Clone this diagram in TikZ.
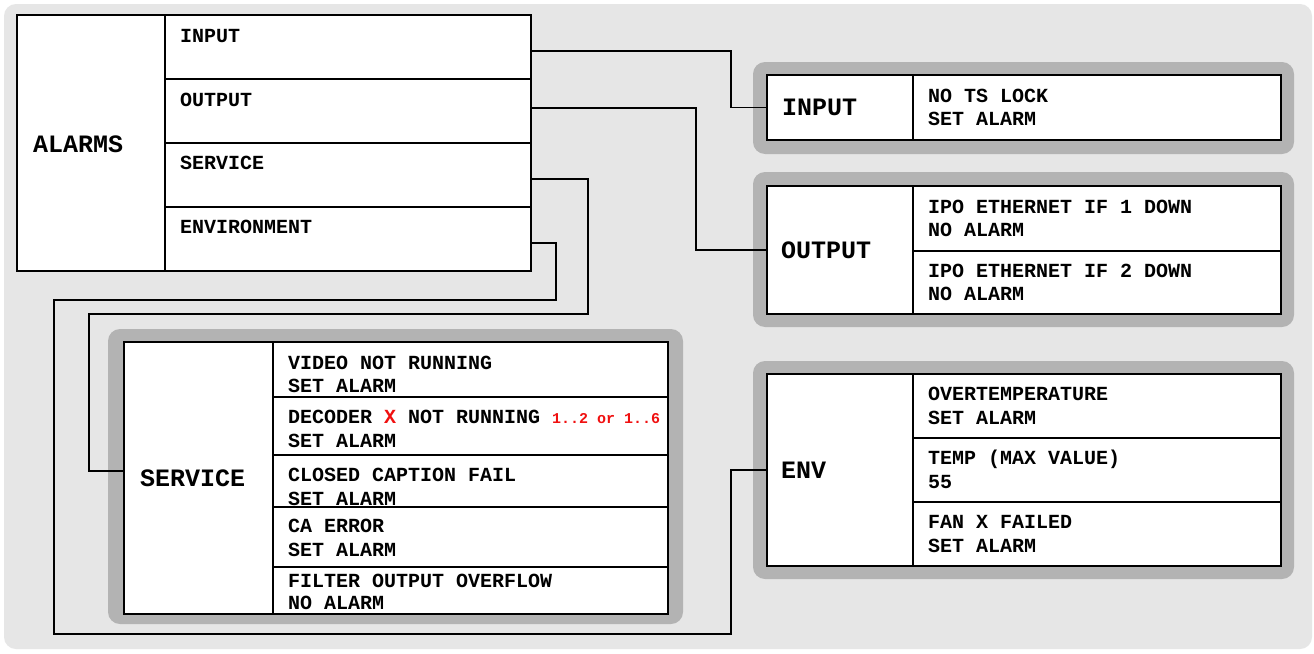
\documentclass[tikz,border=0pt]{standalone}
\usepackage{fontspec}
\setmainfont{Liberation Mono}
\definecolor{bggray}{RGB}{230,230,230}
\definecolor{framegray}{RGB}{179,179,179}
\definecolor{alarmred}{RGB}{240,16,16}
\newcommand\mycell[5]{\node[cell, minimum width=#4, minimum height=#5] (#1) at (#2,#3) {};}
\newcommand\myframe[5]{\node[frame, minimum width=#4, minimum height=#5] (#1) at (#2,#3) {};}
\begin{document}
\begin{tikzpicture}[x=1pt,y=-1pt,
  cell/.style={rectangle, draw=black, fill=white, line width=1.4pt, inner sep=0pt, outer sep=0pt, anchor=north west},
  frame/.style={rectangle, fill=framegray, rounded corners=12pt, inner sep=0pt, outer sep=0pt, anchor=north west},
  bgbox/.style={rectangle, fill=bggray, rounded corners=12pt, inner sep=0pt, outer sep=0pt, anchor=north west},
  txt/.style={font=\fontsize{20}{24}\selectfont\bfseries, anchor=base west, inner sep=0pt},
  big/.style={font=\fontsize{25}{30}\selectfont\bfseries, anchor=base west, inner sep=0pt},
  conn/.style={line width=1.4pt, draw=black}]
\useasboundingbox (0,0) rectangle (1314,653);
\fill[white] (0,0) rectangle (1314,653);
\node[bgbox, minimum width=1308, minimum height=645] (bg) at (4,4) {};

% ALARMS
\mycell{aL}{17}{15}{148}{256}
\mycell{aIn}{165}{15}{366}{64}
\mycell{aOut}{165}{79}{366}{64}
\mycell{aSvc}{165}{143}{366}{64}
\mycell{aEnv}{165}{207}{366}{64}
\node[big] (tAlarms) at (33,152) {ALARMS};
\node[txt] (tAIn) at (180,42) {INPUT};
\node[txt] (tAOut) at (180,106) {OUTPUT};
\node[txt] (tASvc) at (180,169) {SERVICE};
\node[txt] (tAEnv) at (180,233) {ENVIRONMENT};

% INPUT
\myframe{fIn}{753}{62}{541}{92}
\mycell{iL}{767}{75}{146}{65}
\mycell{iR}{913}{75}{368}{65}
\node[big] (tIn) at (782,115) {INPUT};
\node[txt] (tIn1) at (928,102) {NO TS LOCK};
\node[txt] (tIn2) at (928,125) {SET ALARM};

% OUTPUT
\myframe{fOut}{753}{172}{541}{155}
\mycell{oL}{767}{186}{146}{128}
\mycell{oR1}{913}{186}{368}{65}
\mycell{oR2}{913}{251}{368}{63}
\node[big] (tOut) at (781,258) {OUTPUT};
\node[txt] (tOut1) at (928,213) {IPO ETHERNET IF 1 DOWN};
\node[txt] (tOut2) at (928,236) {NO ALARM};
\node[txt] (tOut3) at (928,277) {IPO ETHERNET IF 2 DOWN};
\node[txt] (tOut4) at (928,300) {NO ALARM};

% ENV
\myframe{fEnv}{753}{361}{541}{218}
\mycell{eL}{767}{374}{146}{192}
\mycell{eR1}{913}{374}{368}{64}
\mycell{eR2}{913}{438}{368}{64}
\mycell{eR3}{913}{502}{368}{64}
\node[big] (tEnv) at (781,478) {ENV};
\node[txt] (tEnv1) at (928,400) {OVERTEMPERATURE};
\node[txt] (tEnv2) at (928,424) {SET ALARM};
\node[txt] (tEnv3) at (928,464) {TEMP (MAX VALUE)};
\node[txt] (tEnv4) at (928,488) {55};
\node[txt] (tEnv5) at (928,528) {FAN X FAILED};
\node[txt] (tEnv6) at (928,552) {SET ALARM};

% SERVICE
\myframe{fSvc}{108}{329}{575}{295}
\mycell{sL}{124}{342}{149}{272}
\mycell{sR1}{273}{342}{395}{55}
\mycell{sR2}{273}{397}{395}{58}
\mycell{sR3}{273}{455}{395}{52}
\mycell{sR4}{273}{507}{395}{60}
\mycell{sR5}{273}{567}{395}{47}
\node[big] (tSvc) at (140,486) {SERVICE};
\node[txt] (tS1) at (288,369) {VIDEO NOT RUNNING};
\node[txt] (tS2) at (288,392) {SET ALARM};
\node[txt] (tS3) at (288,423) {DECODER \textcolor{alarmred}{X} NOT RUNNING {\fontsize{15}{18}\selectfont\textcolor{alarmred}{1..2 or 1..6}}};
\node[txt] (tS4) at (288,447) {SET ALARM};
\node[txt] (tS5) at (288,481) {CLOSED CAPTION FAIL};
\node[txt] (tS6) at (288,505) {SET ALARM};
\node[txt] (tS7) at (288,532) {CA ERROR};
\node[txt] (tS8) at (288,556) {SET ALARM};
\node[txt] (tS9) at (288,587) {FILTER OUTPUT OVERFLOW};
\node[txt] (tS10) at (288,609) {NO ALARM};

% connectors
\draw[conn] ([yshift=-4pt]aIn.east) -- ++(200,0) |- (iL.west);
\draw[conn] ([yshift=3pt]aOut.east) -- ++(165,0) |- (oL.west);
\draw[conn] ([yshift=-4pt]aSvc.east) -- ++(57,0) -- ++(0,135) -- ++(-499,0) |- ([yshift=7pt]sL.west);
\draw[conn] ([yshift=-4pt]aEnv.east) -- ++(25,0) -- ++(0,57) -- ++(-502,0) -- ++(0,334) -- ++(677,0) |- (eL.west);
\end{tikzpicture}
\end{document}
